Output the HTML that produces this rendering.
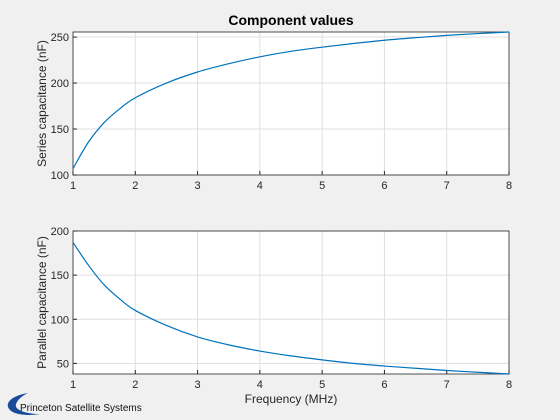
<!DOCTYPE html>
<html><head><meta charset="utf-8"><style>
body{margin:0;background:#f0f0f0;}
svg{display:block;font-family:"Liberation Sans",sans-serif;}
</style></head><body>
<svg id="c" width="560" height="420">
<text x="291" y="25" text-anchor="middle" font-size="14" font-weight="bold" fill="#000">Component values</text>
<g id="top"></g>
<g id="bot"></g>
<text x="291" y="403" text-anchor="middle" font-size="12" fill="#262626">Frequency (MHz)</text>
<g>
<path d="M28 393 C10 396 4 404 10 410 C15 415 28 416 40 414 C26 414 14 410 16 404 C18 399 22 396 28 393 Z" fill="#1a4a9a"/>
<text x="20" y="411" font-size="10" fill="#111">Princeton Satellite Systems</text>
</g>
</svg>
<script>
const freq=[1,1.25,1.5,1.75,2,2.5,3,3.5,4,4.5,5,5.5,6,6.5,7,7.5,8];
const seriesC=[107,136,157,172,184,200,212,221,228.5,234.5,239,243,246.5,249.3,251.8,253.8,255.5];
const parallelC=[187,161,139,123,110,93,80,71,64,58.5,54,50,47,44.5,42,40,38];
const xTicks=[1,2,3,4,5,6,7,8];
const topTicks=[100,150,200,250];
const botTicks=[50,100,150,200];
const NS="http://www.w3.org/2000/svg";
function mk(t,a,p){const e=document.createElementNS(NS,t);for(const k in a)e.setAttribute(k,a[k]);p.appendChild(e);return e;}
function axes(g,y0,y1,ymin,ymax,yt,data,ylab){
 const x0=73,x1=509;
 const sx=v=>x0+(v-1)/7*(x1-x0);
 const sy=v=>y1-(v-ymin)/(ymax-ymin)*(y1-y0);
 const bg=mk('rect',{x:x0,y:y0,width:x1-x0,height:y1-y0,fill:'#fff'},g);
 
 
 xTicks.forEach(v=>{
  const l=mk('line',{x1:sx(v),x2:sx(v),y1:y0,y2:y1,stroke:'#dfdfdf','stroke-width':1},g);
  
  
  const tk=mk('line',{x1:sx(v),x2:sx(v),y1:y1,y2:y1-4,stroke:'#262626'},g);
  
  
  const t=mk('text',{x:sx(v),y:y1+14,'text-anchor':'middle','font-size':11,fill:'#262626'},g);
  t.textContent=v;
  
  
 });
 yt.forEach(v=>{
  const l=mk('line',{x1:x0,x2:x1,y1:sy(v),y2:sy(v),stroke:'#dfdfdf','stroke-width':1},g);
  
  
  const tk=mk('line',{x1:x0,x2:x0+4,y1:sy(v),y2:sy(v),stroke:'#262626'},g);
  
  
  const t=mk('text',{x:x0-4,y:sy(v)+4,'text-anchor':'end','font-size':11,fill:'#262626'},g);
  t.textContent=v;
  
  
 });
 const fr=mk('rect',{x:x0,y:y0,width:x1-x0,height:y1-y0,fill:'none',stroke:'#262626','stroke-width':0.8},g);
 
 
 const P=freq.map((f,i)=>[sx(f),sy(data[i])]);
 let d='M'+P[0][0]+' '+P[0][1];
 for(let i=0;i<P.length-1;i++){
  const p0=P[Math.max(i-1,0)],p1=P[i],p2=P[i+1],p3=P[Math.min(i+2,P.length-1)];
  d+=' C'+(p1[0]+(p2[0]-p0[0])/6)+' '+(p1[1]+(p2[1]-p0[1])/6)+' '+(p2[0]-(p3[0]-p1[0])/6)+' '+(p2[1]-(p3[1]-p1[1])/6)+' '+p2[0]+' '+p2[1];
 }
 const ln=mk('path',{d:d,fill:'none',stroke:'#0072bd','stroke-width':1.2},g);
 
 
 const yl=mk('text',{x:0,y:0,'text-anchor':'middle','font-size':12,fill:'#262626',transform:'translate(46,'+((y0+y1)/2)+') rotate(-90)'},g);
 yl.textContent=ylab;
 
 
}
axes(document.getElementById('top'),32,175,100,255.5,topTicks,seriesC,'Series capacitance (nF)');
axes(document.getElementById('bot'),231,374,38,200,botTicks,parallelC,'Parallel capacitance (nF)');
</script>
</body></html>
